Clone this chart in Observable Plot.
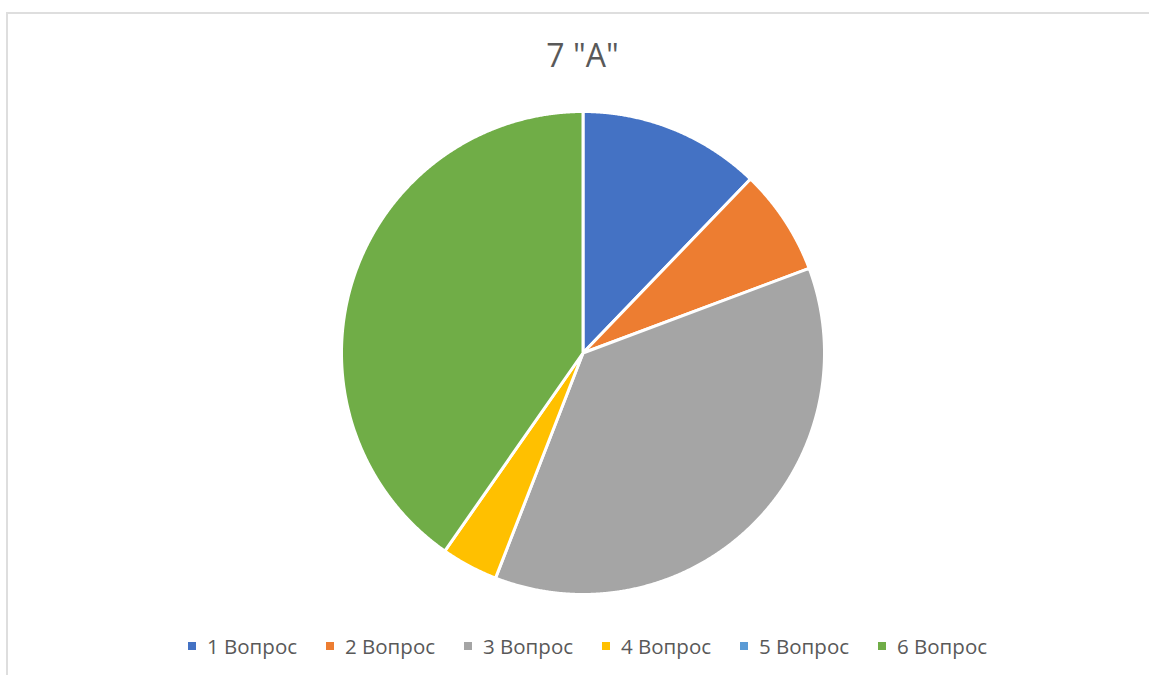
<!DOCTYPE html>
<html>
<head>
<meta charset="utf-8">
<script src="https://cdn.jsdelivr.net/npm/d3@7"></script>
<script src="https://cdn.jsdelivr.net/npm/@observablehq/plot@0.6"></script>
<style>
  html, body { margin: 0; padding: 0; background: #fff; overflow: hidden; }
  #wrap { position: relative; width: 1149px; height: 675px; font-family: "Segoe UI", "Open Sans", "Noto Sans", sans-serif; color: #595959; }
  #border { position: absolute; left: 6px; top: 12px; width: 1200px; height: 700px; border: 2px solid #dedede; box-sizing: border-box; }
  #title { position: absolute; left: 0; width: 1165px; top: 35px; text-align: center; font-size: 32px; line-height: 40px; }
  #chart { position: absolute; left: 0; top: 91px; }
  #legend { position: absolute; left: 188px; top: 632px; display: flex; font-size: 20.5px; line-height: 28px; }
  .item { display: flex; align-items: center; width: 138px; white-space: nowrap; }
  .sw { width: 8px; height: 8px; margin-right: 11px; }
</style>
</head>
<body>
<div id="wrap">
  <div id="border"></div>
  <div id="title"></div>
  <div id="chart"></div>
  <div id="legend"></div>
</div>
<script>
const title = '7 "А"';
const categories = ["1 Вопрос", "2 Вопрос", "3 Вопрос", "4 Вопрос", "5 Вопрос", "6 Вопрос"];
const values = [12.2, 7.1, 36.6, 3.8, 0, 40.3];
const colors = ["#4472C4", "#ED7D31", "#A5A5A5", "#FFC000", "#5B9BD5", "#70AD47"];

document.getElementById("title").textContent = title;

const table = categories.map((c, i) => ({category: c, value: values[i]}));
const arcs = d3.pie().sort(null).value(d => d.value)(table);

function slicePolygon(a) {
  const ring = [[0, 0]];
  const step = Math.PI / 720;
  const n = Math.max(1, Math.ceil((a.endAngle - a.startAngle) / step));
  for (let k = 0; k <= n; k++) {
    const t = a.startAngle + (a.endAngle - a.startAngle) * k / n;
    ring.push([Math.sin(t), Math.cos(t)]);
  }
  ring.push([0, 0]);
  return {type: "Feature", properties: {category: a.data.category}, geometry: {type: "Polygon", coordinates: [ring]}};
}

const features = arcs.filter(a => a.data.value > 0).map(slicePolygon);

const chart = Plot.plot({
  width: 1149,
  height: 523,
  marginLeft: 16,
  marginRight: 0,
  marginTop: 20,
  marginBottom: 20,
  style: {background: "transparent"},
  projection: {type: "reflect-y", domain: {type: "MultiPoint", coordinates: [[-1, -1], [1, 1]]}},
  color: {domain: categories, range: colors},
  marks: [
    Plot.geo(features, {fill: d => d.properties.category, stroke: "white", strokeWidth: 3, strokeLinejoin: "round"})
  ]
});
document.getElementById("chart").appendChild(chart);

const legend = document.getElementById("legend");
categories.forEach((c, i) => {
  const it = document.createElement("div");
  it.className = "item";
  const sw = document.createElement("span");
  sw.className = "sw";
  sw.style.background = colors[i];
  const tx = document.createElement("span");
  tx.textContent = c;
  it.appendChild(sw);
  it.appendChild(tx);
  legend.appendChild(it);
});
</script>
</body>
</html>
